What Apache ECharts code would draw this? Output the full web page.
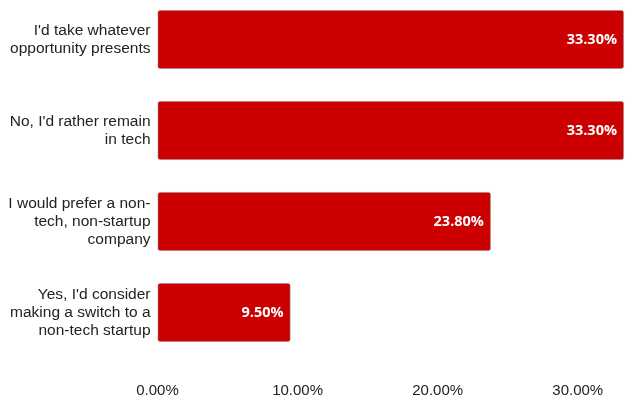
<!DOCTYPE html>
<html>
<head>
<meta charset="utf-8">
<script src="https://cdn.jsdelivr.net/npm/echarts@6/dist/echarts.min.js"></script>
<style>
  html, body { margin: 0; padding: 0; background: #ffffff; }
  #chart { width: 625px; height: 396px; }
</style>
</head>
<body>
<div id="chart"></div>
<script>
// Survey answers, listed top to bottom
const categories = [
  "I'd take whatever\nopportunity presents",
  "No, I'd rather remain\nin tech",
  "I would prefer a non-\ntech, non-startup\ncompany",
  "Yes, I'd consider\nmaking a switch to a\nnon-tech startup"
];
const shares = [33.3, 33.3, 23.8, 9.5];
const tickStep = 10;

const chart = echarts.init(document.getElementById('chart'));
chart.setOption({
  animation: false,
  grid: {
    left: 157.5, right: 1, top: -6, bottom: 38,
    containLabel: false,
    outerBoundsMode: 'none'
  },
  xAxis: {
    type: 'value',
    min: 0,
    max: 33.3,
    interval: tickStep,
    splitLine: { show: false },
    axisLine: { show: false },
    axisTick: { show: false },
    axisLabel: {
      showMaxLabel: false,
      margin: 25,
      color: '#222222',
      fontFamily: 'Liberation Sans, Arial, sans-serif',
      fontSize: 15,
      formatter: v => v.toFixed(2) + '%'
    }
  },
  yAxis: {
    type: 'category',
    inverse: true,
    data: categories,
    axisLine: { show: false },
    axisTick: { show: false },
    axisLabel: {
      margin: 7,
      color: '#222222',
      fontFamily: 'Liberation Sans, Arial, sans-serif',
      fontSize: 15.5,
      lineHeight: 18,
      align: 'right'
    }
  },
  series: [{
    type: 'bar',
    data: shares,
    barCategoryGap: '35%',
    itemStyle: {
      color: '#cc0000',
      borderColor: 'rgba(140,140,140,0.55)',
      borderWidth: 1,
      borderRadius: 2
    },
    label: {
      show: true,
      position: 'insideRight',
      distance: 7,
      color: '#ffffff',
      fontFamily: 'Open Sans, sans-serif',
      fontWeight: 'bold',
      fontSize: 14.5,
      formatter: p => p.value.toFixed(2) + '%'
    }
  }]
});
</script>
</body>
</html>
